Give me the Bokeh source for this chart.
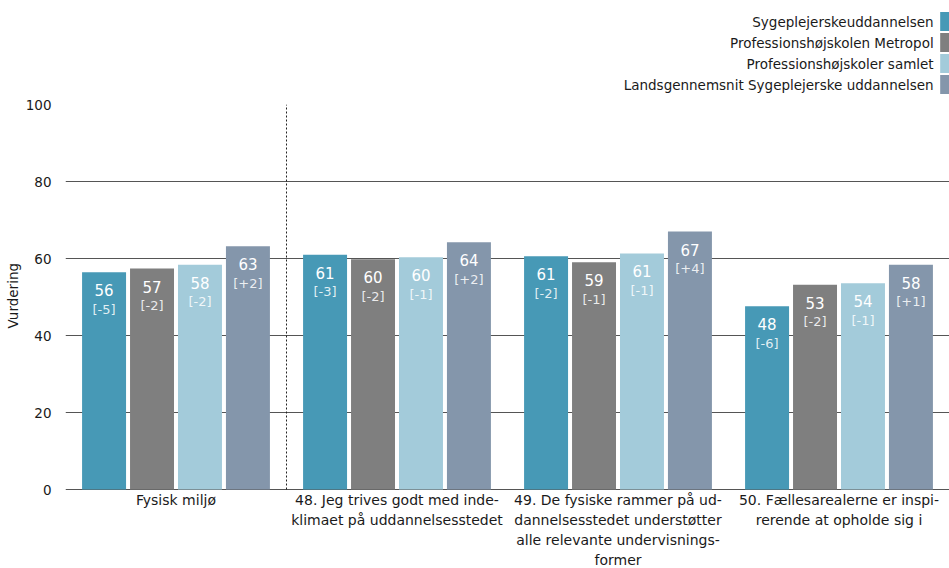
from bokeh.plotting import figure
from bokeh.models import Range1d, FixedTicker, ColumnDataSource
from bokeh.layouts import column
from bokeh.core.properties import value
from bokeh.embed import file_html
from bokeh.resources import INLINE

categories = ["Fysisk miljø",
              "48. Jeg trives godt med inde-\nklimaet på uddannelsesstedet",
              "49. De fysiske rammer på ud-\ndannelsesstedet understøtter\nalle relevante undervisnings-\nformer",
              "50. Fællesarealerne er inspi-\nrerende at opholde sig i"]
series_names = ["Sygeplejerskeuddannelsen", "Professionshøjskolen Metropol",
                "Professionshøjskoler samlet", "Landsgennemsnit Sygeplejerske uddannelsen"]
sygepl = [56.4, 61.0, 60.6, 47.6]
metropol = [57.4, 59.8, 59.0, 53.2]
samlet = [58.4, 60.3, 61.3, 53.6]
lands = [63.2, 64.2, 67.0, 58.4]
diff_sygepl = ["[-5]", "[-3]", "[-2]", "[-6]"]
diff_metropol = ["[-2]", "[-2]", "[-1]", "[-2]"]
diff_samlet = ["[-2]", "[-1]", "[-1]", "[-1]"]
diff_lands = ["[+2]", "[+2]", "[+4]", "[+1]"]
y_ticks = [0, 20, 40, 60, 80, 100]
y_title = "Vurdering"

colors = ["#4799b6", "#7f7f7f", "#a3cbda", "#8496ab"]
series = [sygepl, metropol, samlet, lands]
diffs = [diff_sygepl, diff_metropol, diff_samlet, diff_lands]

FONT = "DejaVu Sans"
W = 949
H = 568
LEFT = 65

# ---- legend figure ----
LH = 96
leg = figure(width=W, height=LH, output_backend="svg", toolbar_location=None,
             x_range=Range1d(0, W), y_range=Range1d(LH, 0),
             min_border=0, outline_line_color=None)
leg.axis.visible = False
leg.grid.visible = False
rows = [21, 42, 63, 84]
leg.text(x=[932] * 4, y=rows, text=series_names, text_align="right",
         text_baseline="middle", text_font=value(FONT), text_font_size="13.5px",
         text_color="#1a1a1a")
leg.rect(x=[945] * 4, y=rows, width=12, height=19, fill_color=colors, line_color=None)

# ---- main figure (extra room below 0 holds the category labels) ----
MH = H - LH
TOP = 8
px_per_unit = 385 / 100
y_bottom = -(MH - TOP - 385) / px_per_unit
p = figure(width=W, height=MH, output_backend="svg", toolbar_location=None,
           x_range=Range1d(0, 4), y_range=Range1d(y_bottom, 100),
           min_border_left=LEFT, min_border_right=0, min_border_top=TOP, min_border_bottom=0,
           outline_line_color=None)

bw = 0.199
step = 0.217
offsets = [-1.5 * step, -0.5 * step, 0.5 * step, 1.5 * step]
for k in range(4):
    xs = [i + 0.5 + offsets[k] for i in range(4)]
    src = ColumnDataSource(dict(x=xs, top=series[k],
                                lab=[f"{v:.0f}" for v in series[k]], d=diffs[k]))
    p.vbar(x="x", top="top", width=bw, bottom=0, source=src,
           fill_color=colors[k], line_color=None)
    p.text(x="x", y="top", text="lab", source=src, text_align="center",
           text_baseline="middle", y_offset=18, text_color="white",
           text_font=value(FONT), text_font_size="15px")
    p.text(x="x", y="top", text="d", source=src, text_align="center",
           text_baseline="middle", y_offset=37, text_color="white", text_alpha=0.85,
           text_font=value(FONT), text_font_size="13px")

# dotted separator between the summary group and the questions
p.segment(x0=[1], y0=[0], x1=[1], y1=[100], line_color="#222222",
          line_dash="2 2", line_width=1)

# category labels
p.text(x=[i + 0.5 for i in range(4)], y=[0] * 4, text=categories,
       text_align="center", text_baseline="top", y_offset=2,
       text_font=value(FONT), text_font_size="14px", text_color="#1a1a1a",
       text_line_height=1.27)

p.xgrid.visible = False
p.xaxis.visible = False
p.ygrid.ticker = FixedTicker(ticks=y_ticks)
p.ygrid.grid_line_color = "#555555"
p.ygrid.grid_line_width = 1
p.yaxis.ticker = FixedTicker(ticks=y_ticks)
p.yaxis.axis_line_color = None
p.yaxis.major_tick_line_color = None
p.yaxis.minor_tick_line_color = None
# leading no-break spaces centre the title on the 0-100 part of the frame
p.yaxis.axis_label = "\u00a0" * 19 + y_title
p.yaxis.axis_label_text_font_style = "normal"
p.yaxis.axis_label_text_font = FONT
p.yaxis.axis_label_text_font_size = "13.5px"
p.yaxis.axis_label_text_color = "#1a1a1a"
p.yaxis.axis_label_standoff = 2
p.yaxis.major_label_text_font = FONT
p.yaxis.major_label_text_font_size = "13.5px"
p.yaxis.major_label_text_color = "#1a1a1a"
p.yaxis.major_label_standoff = 8

layout = column(leg, p, spacing=0)
open("out.html", "w").write(file_html(layout, INLINE))
